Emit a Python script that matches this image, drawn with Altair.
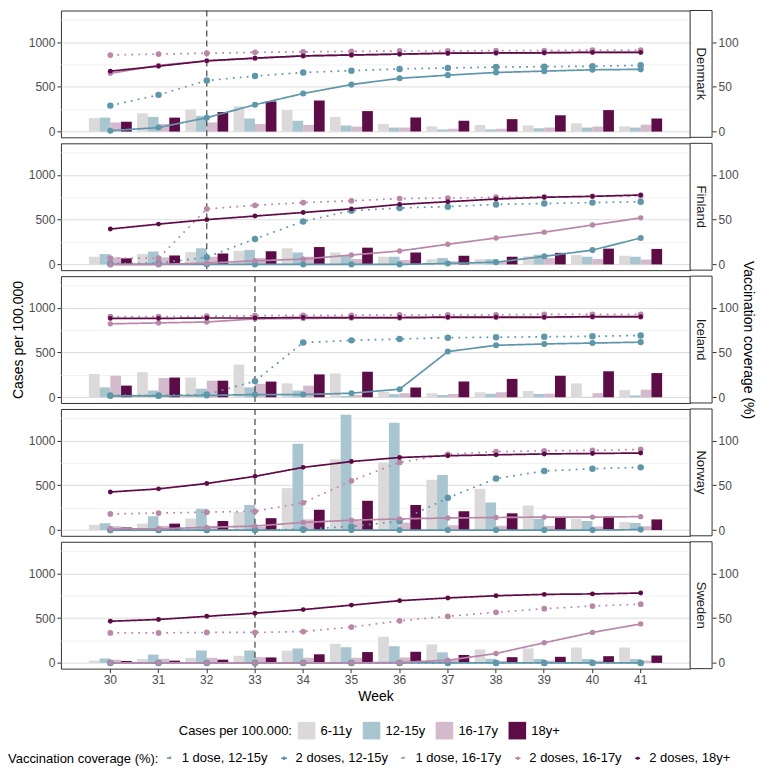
import altair as alt
import pandas as pd

weeks = list(range(30, 42))
countries = ["Denmark", "Finland", "Iceland", "Norway", "Sweden"]
policy_week = [32, 32, 33, 33, 33]

ages = ["6-11y", "12-15y", "16-17y", "18y+"]
age_colors = ["#dcd9da", "#a8c5d0", "#d3bacc", "#5c0d48"]

series = ["1 dose, 12-15y", "2 doses, 12-15y", "1 dose, 16-17y", "2 doses, 16-17y", "2 doses, 18y+"]
series_colors = ["#5f97aa", "#5f97aa", "#b987aa", "#b987aa", "#5e0a47"]
series_dash = [[1.8, 5.2], [1, 0], [1.8, 5.2], [1, 0], [1, 0]]
series_size = [42, 24, 42, 24, 30]

# cases per 100.000, by age group
denmark_cases = {
    "6-11y": [150, 204, 247, 283, 240, 164, 85, 59, 74, 67, 92, 59],
    "12-15y": [156, 164, 175, 146, 121, 67, 45, 24, 24, 38, 45, 45],
    "16-17y": [102, 85, 102, 85, 74, 56, 45, 31, 31, 45, 56, 78],
    "18y+": [110, 156, 218, 337, 347, 229, 156, 121, 139, 182, 240, 146],
}
finland_cases = {
    "6-11y": [86, 115, 137, 151, 180, 133, 86, 58, 58, 90, 104, 97],
    "12-15y": [115, 144, 180, 162, 133, 104, 86, 72, 58, 108, 86, 86],
    "16-17y": [79, 79, 86, 72, 86, 61, 50, 36, 36, 72, 61, 54],
    "18y+": [68, 100, 122, 147, 194, 187, 133, 97, 86, 129, 176, 173],
}
iceland_cases = {
    "6-11y": [260, 280, 220, 365, 155, 265, 60, 45, 55, 70, 155, 80],
    "12-15y": [110, 75, 95, 110, 75, 15, 35, 25, 40, 35, 5, 20],
    "16-17y": [240, 215, 185, 150, 130, 25, 45, 35, 55, 40, 45, 85],
    "18y+": [130, 220, 185, 175, 255, 285, 110, 175, 205, 240, 290, 270],
}
norway_cases = {
    "6-11y": [58, 72, 129, 201, 468, 791, 755, 561, 460, 273, 126, 90],
    "12-15y": [76, 155, 237, 281, 964, 1288, 1198, 615, 309, 126, 101, 79],
    "16-17y": [43, 47, 47, 36, 119, 100, 83, 54, 47, 47, 40, 43],
    "18y+": [29, 72, 101, 133, 227, 327, 281, 209, 187, 144, 144, 119],
}
sweden_cases = {
    "6-11y": [25, 43, 57, 79, 136, 214, 293, 207, 150, 161, 171, 171],
    "12-15y": [50, 93, 139, 139, 161, 175, 186, 118, 46, 43, 43, 43],
    "16-17y": [36, 46, 57, 64, 57, 57, 61, 36, 25, 25, 25, 25],
    "18y+": [21, 25, 36, 61, 96, 121, 125, 89, 64, 68, 75, 82],
}

# vaccination coverage (%)
denmark_cov = {
    "1 dose, 12-15y": [29, 41, 57, 62, 66, 68, 70, 71, 72, 72.5, 73, 74],
    "2 doses, 12-15y": [1, 4.5, 15.5, 30, 42.5, 52.5, 59.5, 63, 66, 67.5, 69, 69.5],
    "1 dose, 16-17y": [85.5, 86.5, 87.5, 88.5, 89, 89.5, 90, 90, 90.5, 90.5, 91, 91],
    "2 doses, 16-17y": [65, 74, 79, 82, 84.5, 85.5, 86.5, 87.5, 87.8, 88, 88.5, 88.5],
    "2 doses, 18y+": [67.5, 73, 79, 82, 84.5, 85.5, 86.5, 87.5, 87.8, 88, 88.5, 88.5],
}
finland_cov = {
    "1 dose, 12-15y": [1, 1.5, 8, 28.5, 48, 60, 63, 64.5, 67, 68, 69, 70],
    "2 doses, 12-15y": [0, 0, 0, 0, 0, 0, 0, 1, 2.5, 9, 16, 29.5],
    "1 dose, 16-17y": [7, 7, 62, 66, 69, 71, 73.5, 74, 75, 75.5, 76, 76.5],
    "2 doses, 16-17y": [0, 0, 1.5, 4, 6, 10.5, 15, 22.5, 29.5, 36, 44, 52],
    "2 doses, 18y+": [39.5, 45, 50, 54, 58, 62, 67, 70, 73, 75, 76, 77.5],
}
iceland_cov = {
    "1 dose, 12-15y": [2, 2, 3, 18, 61, 63.5, 65, 66.5, 67, 67.5, 68, 69],
    "2 doses, 12-15y": [1.5, 1.5, 2, 3, 3, 4.5, 9, 51, 58, 59.5, 60.5, 61.5],
    "1 dose, 16-17y": [90, 90, 90.5, 91, 91.5, 91.5, 92, 92, 92, 92.5, 92.5, 92.5],
    "2 doses, 16-17y": [82, 83, 84, 87.5, 88, 88.5, 88.5, 89, 89, 89, 89.5, 89.5],
    "2 doses, 18y+": [88, 88, 88.5, 88.5, 89, 89, 89, 89.5, 89.5, 89.5, 90, 90],
}
norway_cov = {
    "1 dose, 12-15y": [0, 0, 0, 0, 1, 4, 10, 36, 57.5, 66, 68.5, 70],
    "2 doses, 12-15y": [0, 0, 0, 0, 0, 0, 0, 0, 0, 0, 0, 0.5],
    "1 dose, 16-17y": [18, 19, 20, 21, 30.5, 55, 75.5, 84.5, 87.5, 88.5, 89, 90],
    "2 doses, 16-17y": [1.5, 1.5, 3, 4.5, 8.5, 11, 12.5, 13.5, 14, 14.5, 14.5, 15],
    "2 doses, 18y+": [42.5, 46, 52, 60, 70, 76.5, 81, 83, 84, 85, 85.5, 86],
}
sweden_cov = {
    "1 dose, 12-15y": [0, 0, 0, 0, 0, 0, 0, 0, 0, 0, 0, 0],
    "2 doses, 12-15y": [0, 0, 0, 0, 0, 0, 0, 0, 0, 0, 0, 0],
    "1 dose, 16-17y": [33.5, 33.5, 34, 34, 35, 40, 47, 52, 56.5, 60.5, 63.5, 65.5],
    "2 doses, 16-17y": [0, 0, 0, 0, 0, 0, 0.5, 3, 10.5, 22.5, 34, 43.5],
    "2 doses, 18y+": [46.5, 48.5, 52, 55.5, 59.5, 64.5, 69.5, 72.5, 75, 76.5, 77, 78],
}

cases_by_country = dict(zip(countries, [denmark_cases, finland_cases, iceland_cases, norway_cases, sweden_cases]))
cov_by_country = dict(zip(countries, [denmark_cov, finland_cov, iceland_cov, norway_cov, sweden_cov]))

W, H = 630, 127
STRIP = 22
FONT = "Liberation Sans"

leg_cases = alt.Legend(
    title="Cases per 100.000:", orient="none", legendX=118, legendY=712,
    direction="horizontal", titleOrient="left", symbolType="square",
    symbolSize=310, symbolStrokeWidth=0, labelFontSize=13, titleFontSize=13,
    titleFontWeight="normal", columnPadding=10, labelOffset=5,
)
leg_cov = alt.Legend(
    title="Vaccination coverage (%):", orient="none", legendX=-53, legendY=742,
    direction="horizontal", titleOrient="left",
    symbolType="M-1,0L1,0M-0.3,0A0.3,0.3,0,1,1,0.3,0A0.3,0.3,0,1,1,-0.3,0Z",
    symbolSize=300, symbolStrokeWidth=1.7, labelFontSize=13, titleFontSize=13,
    titleFontWeight="normal", columnPadding=9, labelOffset=5,
)


def panel(i, country):
    rows = []
    for a in ages:
        for w, v in zip(weeks, cases_by_country[country][a]):
            rows.append({"week": w, "age": a, "cases": v})
    cdf = pd.DataFrame(rows)
    rows = []
    for s in series:
        for w, v in zip(weeks, cov_by_country[country][s]):
            rows.append({"week": w, "series": s, "cov": v})
    vdf = pd.DataFrame(rows)

    last = i == len(countries) - 1
    mid = i == 2
    x_axis = alt.Axis(title="Week", labelAngle=0, tickSize=4, labelPadding=2,
                      titlePadding=4) if last else None
    x = alt.X("week:O", scale=alt.Scale(domain=weeks, paddingInner=0.11, paddingOuter=0.58),
              axis=x_axis)

    left_axis = alt.Axis(
        values=[0, 250, 500, 750, 1000, 1250], format="d",
        labelExpr="datum.value % 500 === 0 ? datum.label : ''",
        tickOpacity={"condition": {"test": "datum.value % 500 === 0", "value": 1}, "value": 0},
        gridColor={"condition": {"test": "datum.value % 500 === 0", "value": "#dcdcdc"}, "value": "#f1f1f1"},
        grid=True, tickSize=4, labelPadding=2, titlePadding=3,
    )
    bars = alt.Chart(cdf).mark_bar().encode(
        x=x,
        xOffset=alt.XOffset("age:N", sort=ages, scale=alt.Scale(domain=ages)),
        y=alt.Y("cases:Q", scale=alt.Scale(domain=[-64, 1352], nice=False, zero=False),
                axis=left_axis, title="Cases per 100.000" if mid else None),
        y2=alt.datum(0),
        fill=alt.Fill("age:N", scale=alt.Scale(domain=ages, range=age_colors), legend=leg_cases),
    )

    rule = alt.Chart(pd.DataFrame({"week": [policy_week[i]]})).mark_rule(
        color="#333333", strokeDash=[6, 4], strokeWidth=1.1
    ).encode(x=x)

    y_cov = alt.Y("cov:Q", scale=alt.Scale(domain=[-6.4, 135.2], nice=False, zero=False),
                  axis=alt.Axis(orient="right", values=[0, 50, 100], offset=STRIP, grid=False,
                                tickSize=4, labelPadding=2, titlePadding=2),
                  title="Vaccination coverage (%)" if mid else None)
    col = alt.Color("series:N", scale=alt.Scale(domain=series, range=series_colors), legend=leg_cov)
    lines = alt.Chart(vdf).mark_line(strokeWidth=1.7).encode(
        x=x, y=y_cov, color=col,
        strokeDash=alt.StrokeDash("series:N", scale=alt.Scale(domain=series, range=series_dash),
                                  legend=leg_cov),
    )
    points = alt.Chart(vdf).mark_point(filled=True, opacity=1).encode(
        x=x, y=y_cov, color=col,
        size=alt.Size("series:N", scale=alt.Scale(domain=series, range=series_size), legend=None),
    )
    cov_layer = alt.layer(lines, points)

    sdf = pd.DataFrame({"country": [country]})
    strip_box = alt.Chart(sdf).mark_rect(fill="white", stroke="#333333", strokeWidth=1).encode(
        x=alt.value(W), x2=alt.value(W + STRIP), y=alt.value(0), y2=alt.value(H)
    )
    strip_text = alt.Chart(sdf).mark_text(angle=90, fontSize=13, color="#1a1a1a", font=FONT).encode(
        x=alt.value(W + STRIP / 2), y=alt.value(H / 2), text="country:N"
    )

    return alt.layer(bars, rule, cov_layer, strip_box, strip_text).resolve_scale(
        y="independent"
    ).properties(width=W, height=H)


chart = alt.vconcat(*[panel(i, c) for i, c in enumerate(countries)], spacing=6, bounds="flush").properties(
    padding={"left": 0, "top": 0, "right": 14, "bottom": 0}
).configure(font=FONT).configure_view(
    stroke="#333333", strokeWidth=1
).configure_axis(
    labelColor="#4d4d4d", labelFontSize=12, titleFontSize=14, titleFontWeight="normal",
    titleColor="#000000", tickColor="#333333", domain=False, labelFont=FONT, titleFont=FONT,
).configure_legend(labelFont=FONT, titleFont=FONT, labelColor="#000000", titleColor="#000000")

chart.save("out.html", embed_options={"renderer": "svg", "actions": False})
